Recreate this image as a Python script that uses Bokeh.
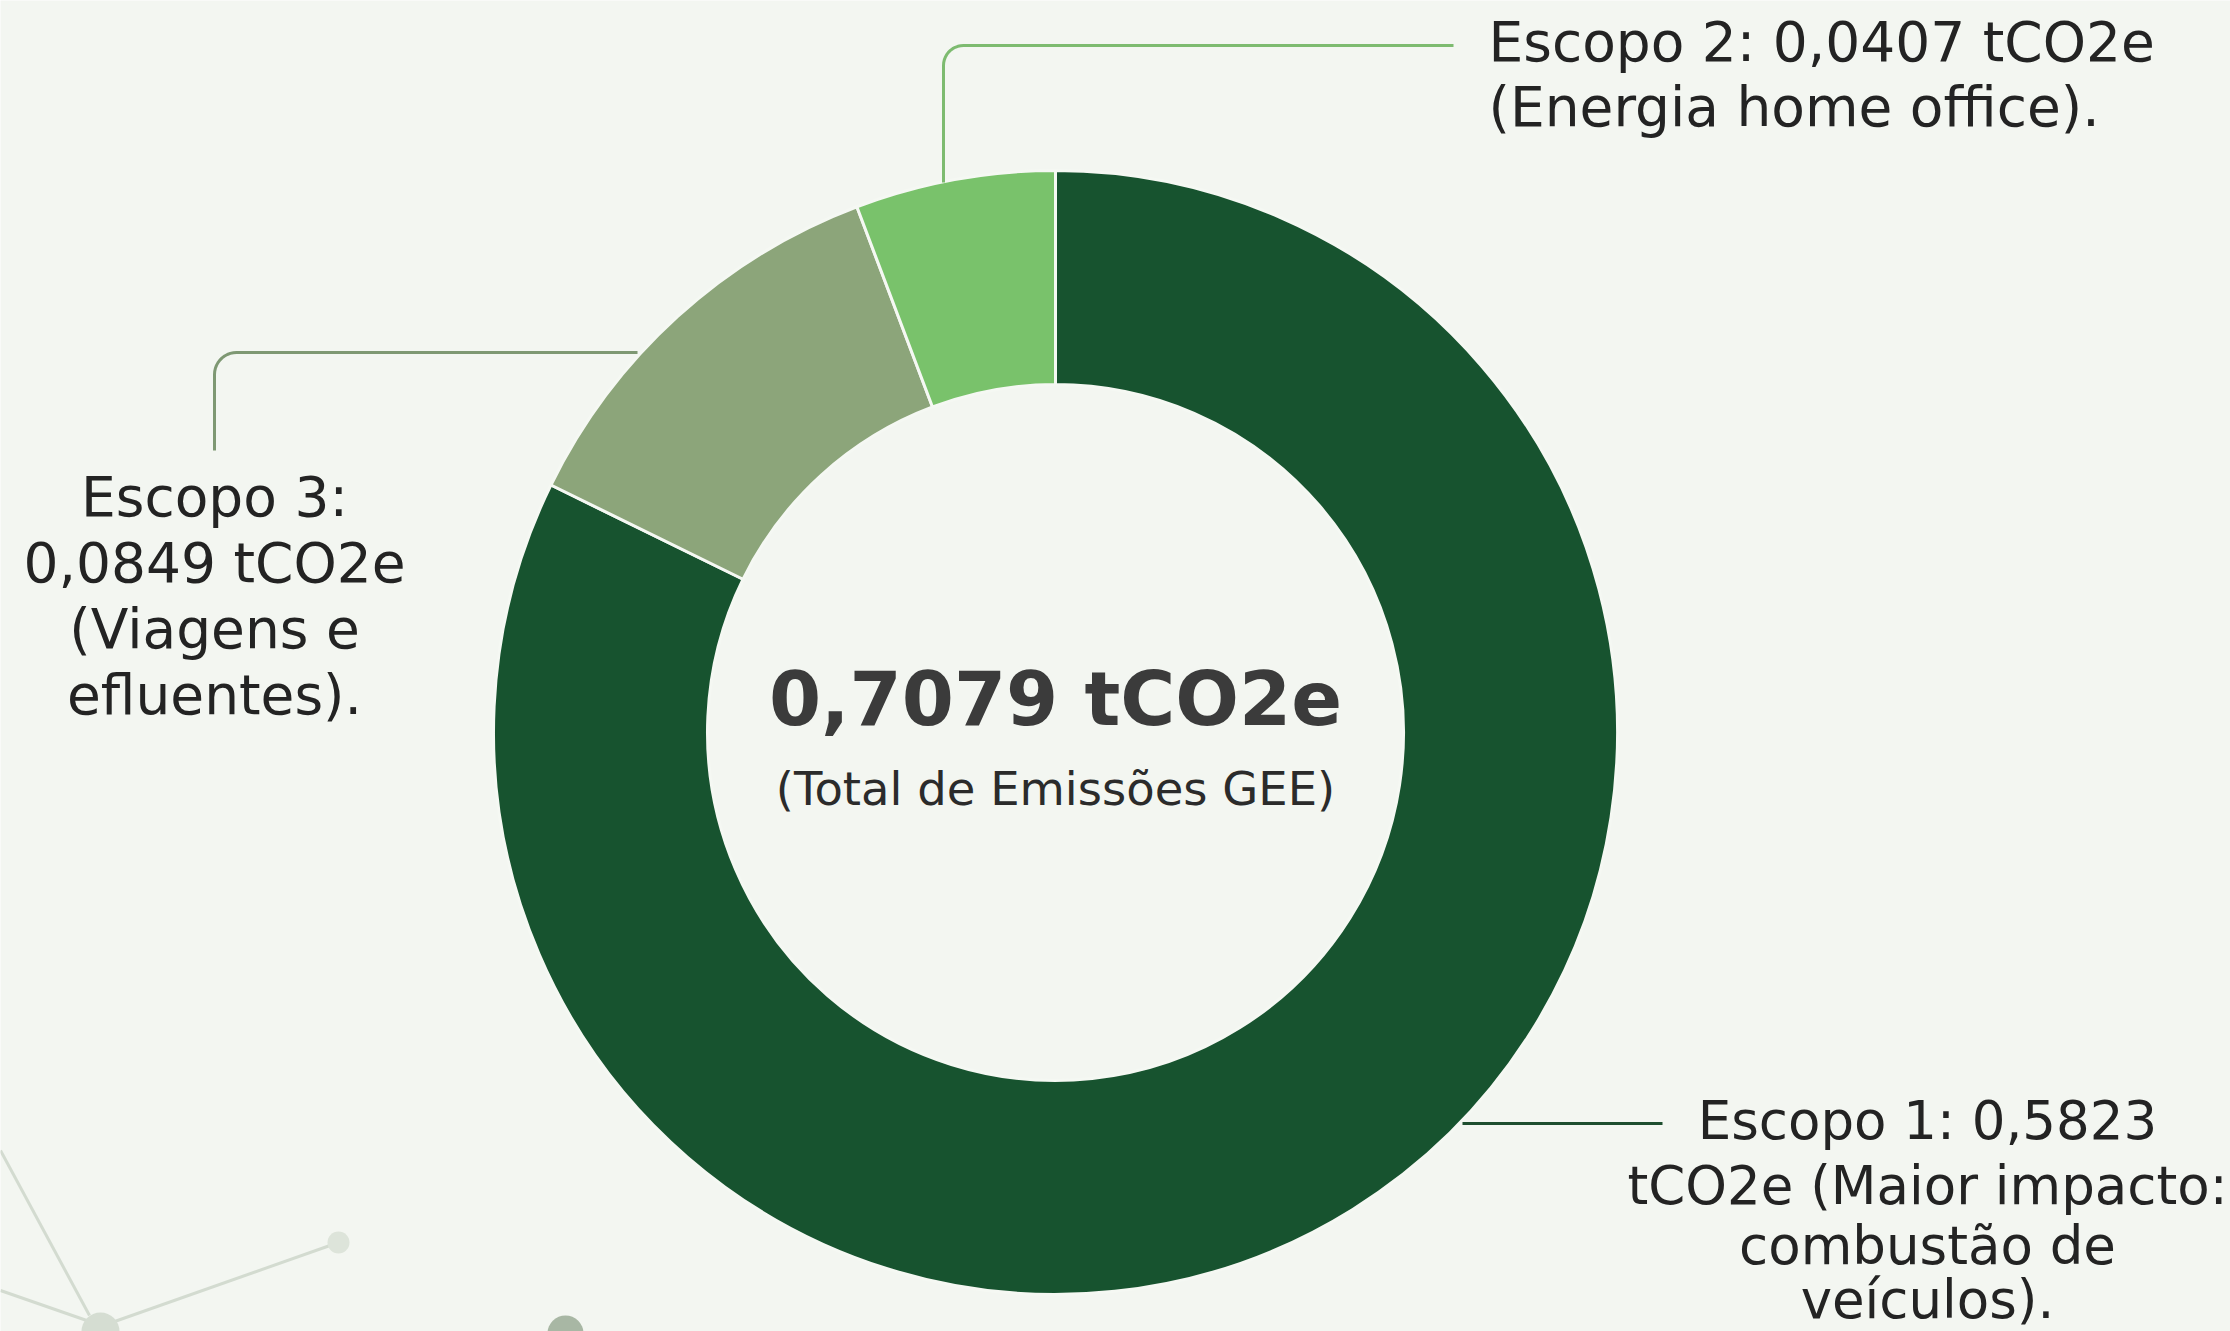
import numpy as np
from bokeh.plotting import figure
from bokeh.models import Range1d, ColumnDataSource
from bokeh.core.properties import value
from bokeh.embed import file_html
from bokeh.resources import INLINE

# ---- data ----
scopes = ["Escopo 1", "Escopo 3", "Escopo 2"]          # clockwise from 12 o'clock
values = [0.5823, 0.0849, 0.0407]
colors = ["#17532F", "#8CA57A", "#79C26B"]
total_label = "0,7079 tCO2e"
total_sub = "(Total de Emissões GEE)"
label_scope1 = ["Escopo 1: 0,5823", "tCO2e (Maior impacto:", "combustão de", "veículos)."]
label_scope2 = ["Escopo 2: 0,0407 tCO2e", "(Energia home office)."]
label_scope3 = ["Escopo 3:", "0,0849 tCO2e", "(Viagens e", "efluentes)."]

BG = "#F3F6F1"
W, H = 2230, 1331
FONT = "DejaVu Sans"
SHIFT = 0.40   # empirical correction of the baseline placement (in em)


def Y(v):
    return H - v


p = figure(width=W, height=H, output_backend="svg", toolbar_location=None,
           x_range=Range1d(0, W), y_range=Range1d(0, H),
           min_border=0, background_fill_color=BG, border_fill_color=BG)
p.axis.visible = False
p.grid.visible = False
p.outline_line_color = None

# ---- decorative network (bottom-left) ----
deco_lines_x = [[0, 89], [0, 92], [100, 338]]
deco_lines_y = [[1150, 1315], [1290, 1322], [1326, 1242]]
p.multi_line([list(a) for a in deco_lines_x], [[Y(v) for v in a] for a in deco_lines_y],
             line_color="#d3dbd0", line_width=3)
p.scatter([338, 100, 565], [Y(1242), Y(1331), Y(1333)], size=[22, 38, 36],
          fill_color=["#dde4da", "#d5ddd2", "#a8b7a4"], line_color=None)

# ---- donut ----
cx, cy = 1055, Y(732)
r_out, r_in = 562, 348
vals = np.array(values)
frac = vals / vals.sum()
cum = np.concatenate([[0], np.cumsum(frac)])
start = np.pi / 2 - 2 * np.pi * cum[:-1]
end = np.pi / 2 - 2 * np.pi * cum[1:]
src = ColumnDataSource(dict(start=start, end=end, color=colors, scope=scopes))
p.annular_wedge(x=cx, y=cy, inner_radius=r_in, outer_radius=r_out,
                start_angle="start", end_angle="end", direction="clock",
                fill_color="color", line_color="#F5F8F3", line_width=3, source=src)


# ---- leader lines ----
def corner(x0, y0, r, a0, a1, n=12):
    t = np.linspace(a0, a1, n)
    return list(x0 + r * np.cos(t)), list(y0 + r * np.sin(t))

# Escopo 2: up then right
rc = 20
ax, ay = corner(943 + rc, Y(45) - rc, rc, np.pi, np.pi / 2)
p.line([943] + ax + [1453], [Y(182)] + ay + [Y(45)], line_color="#7DBB70", line_width=3)
# Escopo 3: left then down
rc = 22
ax, ay = corner(214 + rc, Y(352) - rc, rc, np.pi / 2, np.pi)
p.line([637] + ax + [214], [Y(352)] + ay + [Y(450)], line_color="#7E9873", line_width=3)
# Escopo 1: horizontal
p.line([1462, 1662], [Y(1123), Y(1123)], line_color="#1E4E2F", line_width=3)

# ---- texts ----
TXT = "#232323"


def lines(txts, x, baselines, align, size, color=TXT, style="normal"):
    p.text(x=[x] * len(txts), y=[Y(b) + SHIFT * size for b in baselines], text=txts,
           text_align=align, text_baseline="alphabetic", text_font=value(FONT),
           text_font_size=f"{size}px", text_color=color, text_font_style=style)


lines(label_scope2, 1488, [63, 128], "left", 55)
lines(label_scope3, 214, [518, 584, 650, 716], "center", 55)
lines(label_scope1, 1927, [1141, 1206, 1266, 1320], "center", 53)
lines([total_label], cx, [728], "center", 75, color="#3B3B3B", style="bold")
lines([total_sub], cx, [807], "center", 46.5, color="#2b2b2b")

html = file_html(p, INLINE)
html = html.replace("<body>", f'<body style="background-color:{BG};">', 1)
open("out.html", "w").write(html)
